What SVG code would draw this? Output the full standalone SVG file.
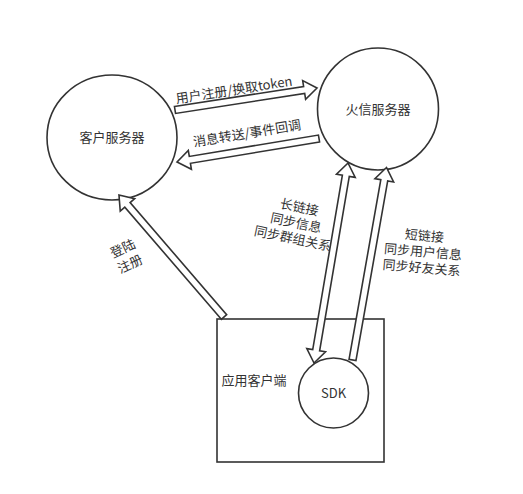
<svg xmlns="http://www.w3.org/2000/svg" width="523" height="494" viewBox="0 0 523 494">
<style>
.shape{fill:#fff;stroke:#333;stroke-width:1.6}
.arrow{fill:#fff;stroke:#333;stroke-width:1.6;stroke-linejoin:miter}
text{font-family:"Noto Sans CJK SC","Liberation Sans",sans-serif;font-size:13px;fill:#333;text-anchor:middle}
</style>
<rect width="523" height="494" fill="#fff"/>
<g id="client-server">
<ellipse class="shape" cx="112" cy="137.5" rx="65" ry="62.5"/>
<text x="112" y="142">客户服务器</text>
</g>
<g id="huoxin-server">
<ellipse class="shape" cx="378" cy="109" rx="60.5" ry="61"/>
<text x="378" y="113.5">火信服务器</text>
</g>
<g id="app-client">
<rect class="shape" x="217" y="319" width="167" height="143"/>
<text x="254" y="385">应用客户端</text>
</g>
<g id="sdk">
<circle class="shape" cx="333.5" cy="393" r="35"/>
<text x="333.5" y="398">SDK</text>
</g>
<g id="connectors">
<path class="arrow" transform="translate(175,110) rotate(-8.81)" d="M0,-3.5 L130.7,-3.5 L130.7,-9.5 L143.7,0 L130.7,9.5 L130.7,3.5 L0,3.5 Z"/>
<path class="arrow" transform="translate(319,138.5) rotate(170.6)" d="M0,-3.5 L130.9,-3.5 L130.9,-9.5 L143.9,0 L130.9,9.5 L130.9,3.5 L0,3.5 Z"/>
<path class="arrow" transform="translate(224,317) rotate(-130.72)" d="M0,-3.5 L148,-3.5 L148,-9.5 L161,0 L148,9.5 L148,3.5 L0,3.5 Z"/>
<path class="arrow" transform="translate(314,363) rotate(-80.35)" d="M0,0 L13,-9.5 L13,-3.5 L189.9,-3.5 L189.9,-9.5 L202.9,0 L189.9,9.5 L189.9,3.5 L13,3.5 L13,9.5 Z"/>
<path class="arrow" transform="translate(352.5,360) rotate(-79.98)" d="M0,-3.5 L182.5,-3.5 L182.5,-9.5 L195.5,0 L182.5,9.5 L182.5,3.5 L0,3.5 Z"/>
<text transform="translate(234,90) rotate(-8.8)" y="4.5">用户注册/换取token</text>
<text transform="translate(247,133.5) rotate(-9.4)" y="4.5">消息转送/事件回调</text>
<g transform="translate(296,223) rotate(12)">
<text y="-11.5">长链接</text>
<text y="4.5">同步信息</text>
<text y="20.5">同步群组关系</text>
</g>
<g transform="translate(423,252) rotate(5)">
<text y="-11.5">短链接</text>
<text y="4.5">同步用户信息</text>
<text y="20.5">同步好友关系</text>
</g>
<g transform="translate(126.5,256.5) rotate(-25)">
<text y="-4">登陆</text>
<text y="13">注册</text>
</g>
</g>
</svg>
